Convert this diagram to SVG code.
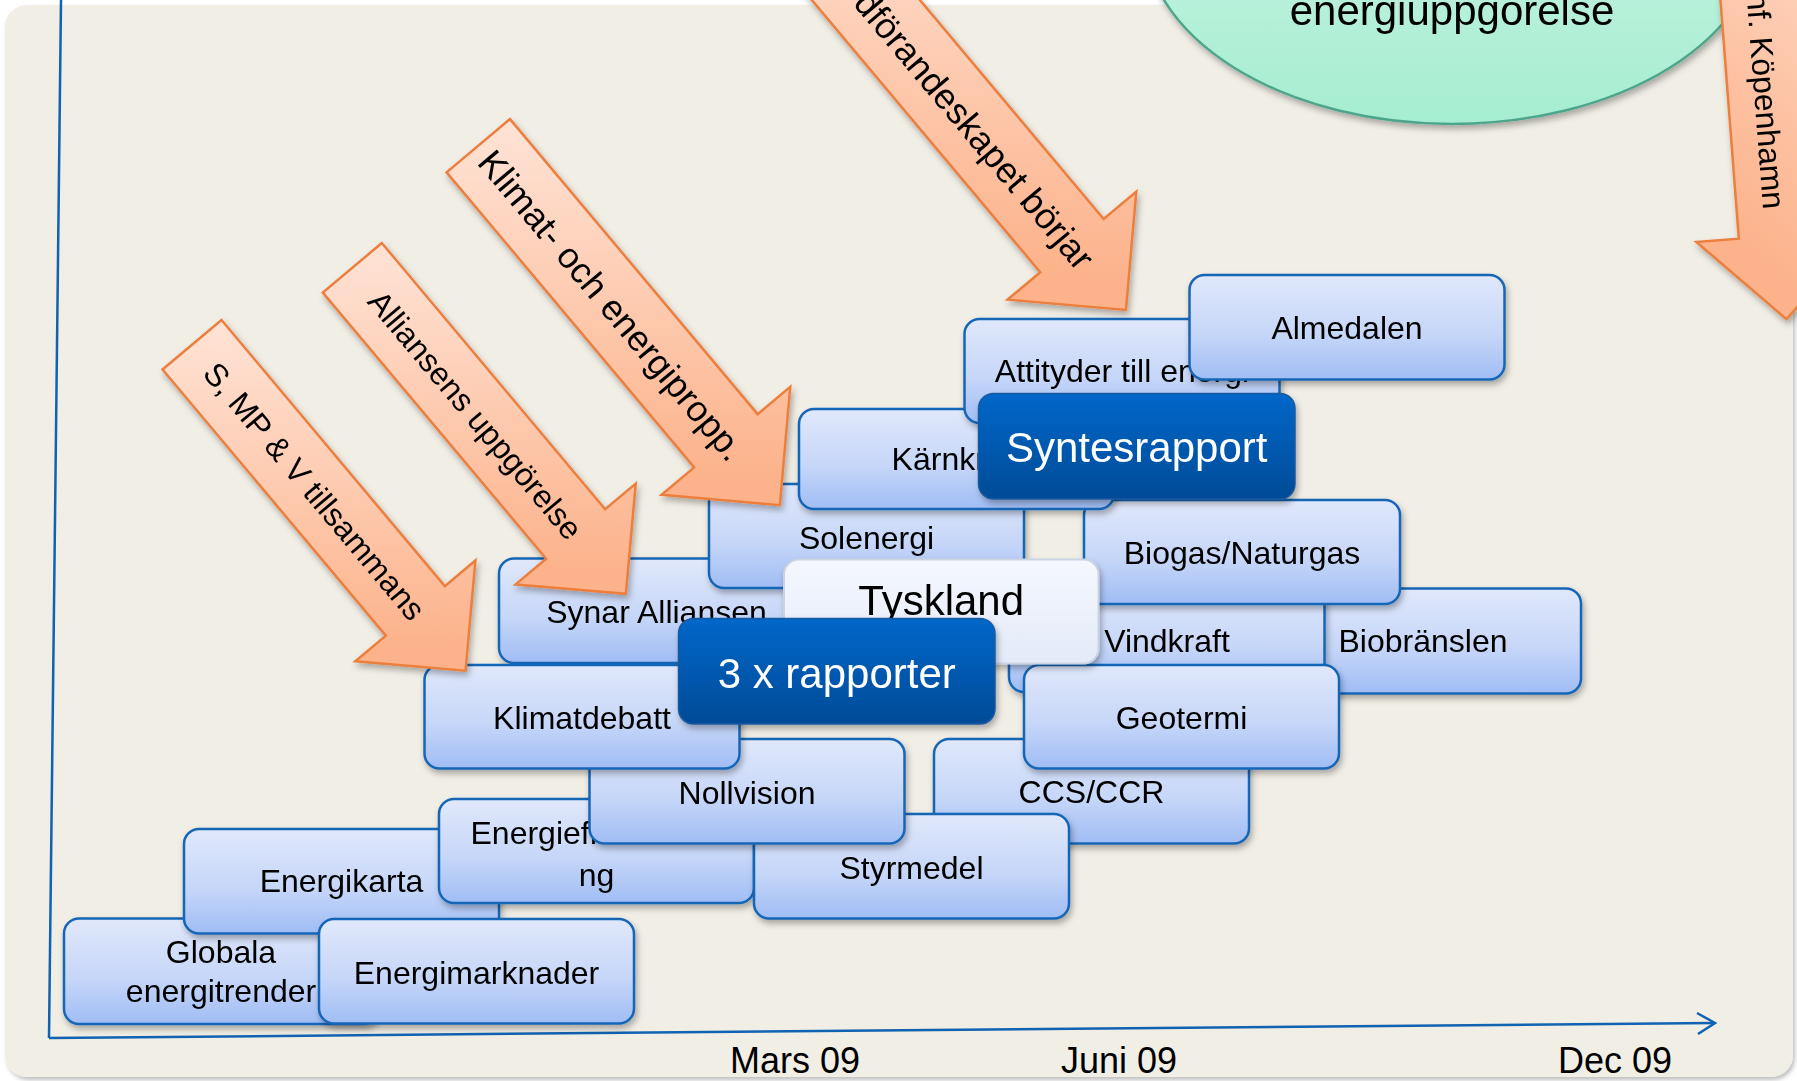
<svg xmlns="http://www.w3.org/2000/svg" width="1797" height="1081" viewBox="0 0 1797 1081">
<defs>
<style>
.box{fill:url(#gBox);stroke:#1766B7;stroke-width:2.5}
.dark{fill:url(#gDark);stroke:#1B5A9E;stroke-width:1.5}
.light{fill:url(#gLight);stroke:#C9D3E3;stroke-width:2}
.t{font-family:"Liberation Sans",Arial,sans-serif;font-size:32px;fill:#000;text-anchor:middle}
.big{font-size:42px}
.w{fill:#fff}
.arr{fill:url(#gArrow);stroke:#EC7F3C;stroke-width:2.5}
.ta{font-family:"Liberation Sans",Arial,sans-serif;font-size:32px;fill:#000;text-anchor:middle}
.axis{fill:none;stroke:#1062B2;stroke-width:2.5}
</style>
<linearGradient id="gBox" x1="0" y1="0" x2="0" y2="1"><stop offset="0" stop-color="#E0E8FB"/><stop offset="0.55" stop-color="#C7D7F8"/><stop offset="1" stop-color="#A0BDF5"/></linearGradient>
<linearGradient id="gDark" x1="0" y1="0" x2="0" y2="1"><stop offset="0" stop-color="#0067C9"/><stop offset="1" stop-color="#004B97"/></linearGradient>
<linearGradient id="gLight" x1="0" y1="0" x2="0" y2="1"><stop offset="0" stop-color="#F5F8FE"/><stop offset="1" stop-color="#E3EAF8"/></linearGradient>
<linearGradient id="gArrow" x1="0" y1="0" x2="1" y2="0.3"><stop offset="0" stop-color="#FFE7DC"/><stop offset="1" stop-color="#FCB28A"/></linearGradient>
<linearGradient id="gEll" x1="0" y1="0" x2="0" y2="1"><stop offset="0" stop-color="#DDF7EC"/><stop offset="1" stop-color="#A5EDD1"/></linearGradient>
<filter id="sh" x="-10%" y="-10%" width="130%" height="140%"><feDropShadow dx="2" dy="4" stdDeviation="3" flood-color="#000" flood-opacity="0.3"/></filter>
<filter id="psh" x="-2%" y="-2%" width="104%" height="104%"><feDropShadow dx="2" dy="3" stdDeviation="2" flood-color="#000" flood-opacity="0.25"/></filter>
</defs>
<rect width="1797" height="1081" fill="#fff"/>
<rect x="5" y="5" width="1788" height="1072" rx="22" fill="#F1EEE6" filter="url(#psh)"/>

<g id="connectors">
<line class="axis" x1="61" y1="0" x2="49" y2="1038"/>
<line class="axis" x1="49" y1="1038" x2="1714" y2="1023"/>
<polyline class="axis" points="1697,1013 1715,1023 1698,1034"/>
</g>

<g id="axis-labels" class="t" style="font-size:36px">
<text x="795" y="1073">Mars 09</text>
<text x="1119" y="1073">Juni 09</text>
<text x="1615" y="1073">Dec 09</text>
</g>

<g id="n-globala" filter="url(#sh)"><rect class="box" x="64" y="918.5" width="314" height="105.5" rx="15"/><text class="t" x="221" y="962.5">Globala</text><text class="t" x="221" y="1002">energitrender</text></g>
<g id="n-energikarta" filter="url(#sh)"><rect class="box" x="184" y="829" width="315" height="104.5" rx="15"/><text class="t" x="341.5" y="892">Energikarta</text></g>
<g id="n-energimarknader" filter="url(#sh)"><rect class="box" x="319" y="919" width="315" height="104.5" rx="15"/><text class="t" x="476.5" y="983.5">Energimarknader</text></g>
<g id="n-energieffektivisering" filter="url(#sh)"><rect class="box" x="439" y="799" width="315" height="104" rx="15"/><text class="t" x="596.5" y="843.5">Energieffektiviseri</text><text class="t" x="596.5" y="886">ng</text></g>
<g id="n-ccs" filter="url(#sh)"><rect class="box" x="934" y="739" width="315" height="104.5" rx="15"/><text class="t" x="1091.5" y="803">CCS/CCR</text></g>
<g id="n-styrmedel" filter="url(#sh)"><rect class="box" x="754" y="814" width="315" height="104.5" rx="15"/><text class="t" x="911.5" y="878.5">Styrmedel</text></g>
<g id="n-nollvision" filter="url(#sh)"><rect class="box" x="589.5" y="739" width="315" height="104.5" rx="15"/><text class="t" x="747" y="803.5">Nollvision</text></g>
<g id="n-synar" filter="url(#sh)"><rect class="box" x="499" y="558.5" width="315" height="104.5" rx="15"/><text class="t" x="656.5" y="623">Synar Alliansen</text></g>
<g id="n-klimatdebatt" filter="url(#sh)"><rect class="box" x="424.5" y="665" width="315" height="103.5" rx="15"/><text class="t" x="582" y="728.5">Klimatdebatt</text></g>
<g id="n-biobranslen" filter="url(#sh)"><rect class="box" x="1265" y="588.5" width="316" height="105" rx="15"/><text class="t" x="1423" y="652">Biobränslen</text></g>
<g id="n-vindkraft" filter="url(#sh)"><rect class="box" x="1009" y="588" width="315.5" height="104" rx="15"/><text class="t" x="1167" y="652">Vindkraft</text></g>
<g id="n-biogas" filter="url(#sh)"><rect class="box" x="1084" y="500" width="316" height="104" rx="15"/><text class="t" x="1242" y="564">Biogas/Naturgas</text></g>
<g id="n-geotermi" filter="url(#sh)"><rect class="box" x="1024" y="665" width="315" height="103.5" rx="15"/><text class="t" x="1181.5" y="729">Geotermi</text></g>
<g id="n-solenergi" filter="url(#sh)"><rect class="box" x="709" y="484" width="315" height="104" rx="15"/><text class="t" x="866.5" y="548.5">Solenergi</text></g>
<g id="n-karnkraft" filter="url(#sh)"><rect class="box" x="799" y="409" width="315" height="100" rx="15"/><text class="t" x="956.5" y="469.5">Kärnkraft</text></g>
<g id="n-attityder" filter="url(#sh)"><rect class="box" x="964.5" y="319" width="315" height="104" rx="15"/><text class="t" x="1122" y="381.5">Attityder till energi</text></g>
<g id="n-almedalen" filter="url(#sh)"><rect class="box" x="1189.5" y="275" width="315" height="104.5" rx="15"/><text class="t" x="1347" y="339">Almedalen</text></g>
<g id="n-syntesrapport" filter="url(#sh)"><rect class="dark" x="978.5" y="393.5" width="316.5" height="105.5" rx="15"/><text class="t big w" x="1136.7" y="462">Syntesrapport</text></g>
<g id="n-tyskland" filter="url(#sh)"><rect class="light" x="784" y="559.5" width="314.5" height="104" rx="15"/><text class="t big" x="941.2" y="615">Tyskland</text></g>
<g id="n-3xrapporter" filter="url(#sh)"><rect class="dark" x="678.5" y="618.5" width="316.5" height="105.5" rx="15"/><text class="t big w" x="836.7" y="687.5">3 x rapporter</text></g>

<g id="n-energiuppgorelse" filter="url(#sh)"><ellipse cx="1452" cy="-68" rx="308" ry="192" fill="url(#gEll)" stroke="#4EA68B" stroke-width="2.5"/><text class="t big" x="1452" y="25">energiuppgörelse</text></g>

<g id="a-smpv" filter="url(#sh)"><g transform="translate(192,344.7) rotate(50)"><polygon class="arr" points="0,-38.5 347.5,-38.5 347.5,-78.4 425.6,0 347.5,78.4 347.5,38.5 0,38.5"/><text class="ta" x="191" y="11.5">S, MP &amp; V tillsammans</text></g></g>
<g id="a-alliansen" filter="url(#sh)"><g transform="translate(352.3,267.8) rotate(50)"><polygon class="arr" points="0,-38.5 347.5,-38.5 347.5,-78.4 425.6,0 347.5,78.4 347.5,38.5 0,38.5"/><text class="ta" x="192" y="11.5">Alliansens uppgörelse</text></g></g>
<g id="a-klimatpropp" filter="url(#sh)"><g transform="translate(478.3,145.7) rotate(50)"><polygon class="arr" points="0,-41.4 385.2,-41.4 385.2,-84 469.2,0 385.2,84 385.2,41.4 0,41.4"/><text class="ta" x="208" y="13" style="font-size:36px">Klimat- och energipropp.</text></g></g>
<g id="a-ordforandeskapet" filter="url(#sh)"><g transform="translate(766,-119) rotate(50)"><polygon class="arr" points="0,-41.4 476,-41.4 476,-84 560,0 476,84 476,41.4 0,41.4"/><text class="ta" x="500" y="13" style="font-size:36px;text-anchor:end">EU-ordförandeskapet börjar</text></g></g>
<g id="a-kopenhamn" filter="url(#sh)"><g transform="translate(1743.6,-239.1) rotate(85.6)"><polygon class="arr" points="0,-41.4 476,-41.4 476,-84 560,0 476,84 476,41.4 0,41.4"/><text class="ta" x="449" y="15" style="text-anchor:end">Klimatkonf. Köpenhamn</text></g></g>
</svg>
